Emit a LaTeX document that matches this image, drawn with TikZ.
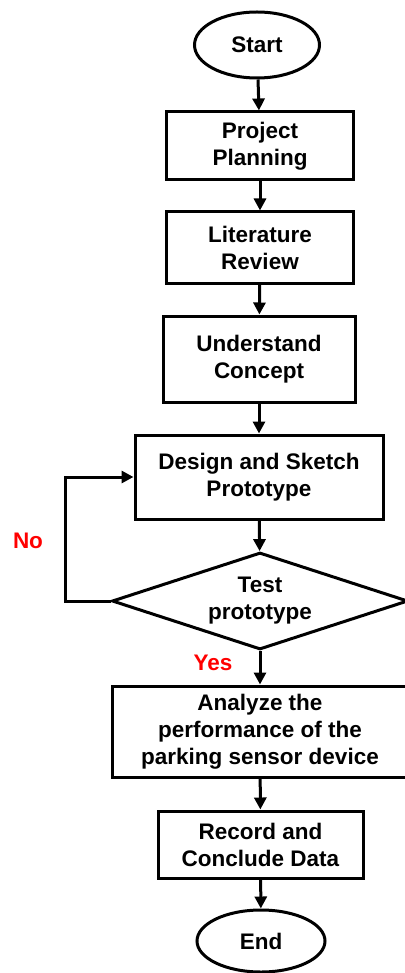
\documentclass[tikz,border=0pt]{standalone}
\usepackage{fontspec}
\setmainfont{Liberation Sans}
\usetikzlibrary{shapes.geometric,arrows.meta}
\begin{document}
\begin{tikzpicture}[x=1pt,y=-1pt,line width=3pt,
    font=\fontsize{22.5}{27}\selectfont\bfseries,
    terminal/.style={draw,ellipse,inner sep=0pt},
    process/.style={draw,rectangle,align=center,inner sep=0pt},
    decision/.style={draw,diamond,align=center,inner sep=0pt,aspect=3,
      minimum width=296,minimum height=97},
    answer/.style={text=red},
    flow/.style={-{Triangle[length=12pt,width=12pt]}}]
      \useasboundingbox (0,0) rectangle (404,973);
      \node[terminal,minimum width=125,minimum height=66] (start) at (257,45) {Start};
      \node[process,minimum width=187,minimum height=68] (plan) at (260,146) {Project\\Planning};
      \node[process,minimum width=187,minimum height=71] (review) at (260,247.5) {Literature\\Review};
      \node[process,minimum width=192,minimum height=86] (concept) at (259,359) {Understand\\Concept};
      \node[process,minimum width=248,minimum height=84] (design) at (259,477) {Design and Sketch\\Prototype};
      \node[decision] (test) at (260,601) {Test\\prototype};
      \node[process,minimum width=296,minimum height=91] (analyze) at (260,731.5)
        {Analyze the\\performance of the\\parking sensor device};
      \node[process,minimum width=205,minimum height=67] (record) at (260.5,844.5) {Record and\\Conclude Data};
      \node[terminal,minimum width=128,minimum height=62] (end) at (261,941) {End};
      \node[answer] (no) at (28,541) {No};
      \node[answer] (yes) at (213,663) {Yes};
      \coordinate (loop) at (65,477);
      \begin{scope}[flow]
        \draw (start) to (plan);
        \draw (plan) to (review);
        \draw (review) to (concept);
        \draw (concept) to (design);
        \draw (design) to (test);
        \draw (test) to (analyze);
        \draw (analyze) to (record);
        \draw (record) to (end);
        \draw (test.west) -| (loop) -- (design.west);
      \end{scope}
    \end{tikzpicture}
\end{document}
